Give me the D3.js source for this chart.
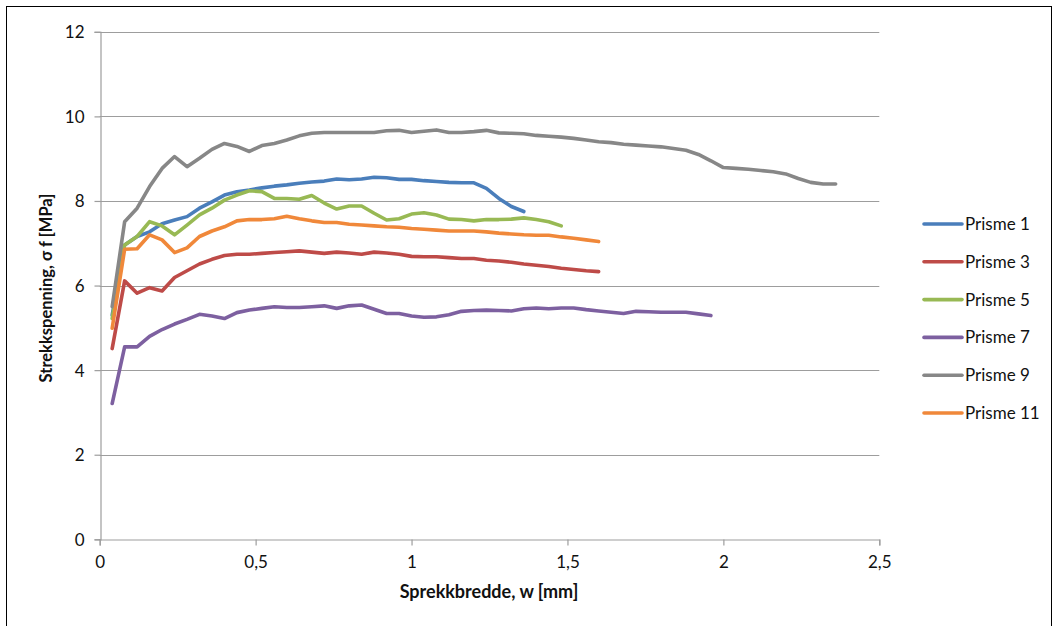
<!DOCTYPE html>
<html>
<head>
<meta charset="utf-8">
<script src="https://cdn.jsdelivr.net/npm/d3@7/dist/d3.min.js"></script>
<style>
  html, body { margin: 0; padding: 0; background: #fff; }
  svg { display: block; font-family: Lato, "Open Sans", sans-serif; }
</style>
</head>
<body>
<svg id="chart" width="1058" height="626"></svg>
<script>
// Crack width steps [mm], shared by every specimen
const crackWidth = [0.04,0.08,0.12,0.16,0.20,0.24,0.28,0.32,0.36,0.40,0.44,0.48,0.52,0.56,0.60,0.64,0.68,0.72,0.76,0.80,
  0.84,0.88,0.92,0.96,1.00,1.04,1.08,1.12,1.16,1.20,1.24,1.28,1.32,1.36,1.40,1.44,1.48,1.52,1.56,1.60,
  1.64,1.68,1.72,1.76,1.80,1.84,1.88,1.92,1.96,2.00,2.04,2.08,2.12,2.16,2.20,2.24,2.28,2.32,2.36];

// Tensile stress [MPa] per specimen, one value per crack width step
const prisme1 = [5.3,6.96,7.16,7.27,7.46,7.55,7.63,7.83,7.98,8.14,8.22,8.26,8.31,8.35,8.38,8.42,8.45,8.47,8.52,8.50,
  8.52,8.56,8.55,8.51,8.51,8.48,8.46,8.44,8.43,8.43,8.30,8.06,7.87,7.75];
const prisme3 = [4.51,6.11,5.82,5.95,5.87,6.19,6.35,6.51,6.62,6.71,6.74,6.74,6.76,6.78,6.80,6.82,6.79,6.76,6.79,6.77,
  6.74,6.79,6.77,6.74,6.69,6.68,6.68,6.66,6.64,6.64,6.60,6.58,6.55,6.51,6.48,6.45,6.41,6.38,6.35,6.33];
const prisme5 = [5.22,6.96,7.16,7.51,7.41,7.20,7.43,7.67,7.83,8.02,8.14,8.24,8.22,8.06,8.06,8.04,8.13,7.95,7.81,7.88,
  7.88,7.71,7.55,7.58,7.69,7.72,7.67,7.57,7.56,7.53,7.56,7.56,7.57,7.60,7.56,7.51,7.41];
const prisme7 = [3.21,4.55,4.55,4.80,4.96,5.09,5.20,5.32,5.28,5.22,5.36,5.42,5.46,5.50,5.48,5.48,5.50,5.52,5.46,5.52,
  5.54,5.44,5.34,5.34,5.28,5.25,5.26,5.31,5.39,5.41,5.42,5.41,5.40,5.45,5.47,5.45,5.47,5.47,5.43,5.40,
  5.37,5.34,5.39,5.38,5.37,5.37,5.37,5.33,5.29];
const prisme9 = [5.5,7.51,7.83,8.34,8.77,9.05,8.81,9.01,9.22,9.36,9.29,9.17,9.31,9.36,9.44,9.54,9.60,9.62,9.62,9.62,
  9.62,9.62,9.66,9.67,9.62,9.65,9.68,9.62,9.62,9.64,9.67,9.61,9.60,9.59,9.55,9.53,9.51,9.48,9.44,9.40,
  9.38,9.34,9.32,9.30,9.28,9.24,9.20,9.10,8.95,8.79,8.77,8.75,8.72,8.69,8.64,8.53,8.44,8.40,8.40];
const prisme11 = [4.99,6.86,6.87,7.20,7.08,6.78,6.89,7.16,7.29,7.39,7.53,7.56,7.56,7.58,7.64,7.58,7.53,7.49,7.49,7.45,
  7.43,7.41,7.39,7.38,7.35,7.33,7.31,7.29,7.29,7.29,7.27,7.24,7.22,7.20,7.19,7.19,7.15,7.12,7.08,7.04];

const seriesNames = ["Prisme 1","Prisme 3","Prisme 5","Prisme 7","Prisme 9","Prisme 11"];
const seriesValues = [prisme1, prisme3, prisme5, prisme7, prisme9, prisme11];
const seriesColors = ["#4A7EBB","#BE4B48","#98B954","#7D60A0","#878787","#F0883A"];

const xTicks = [0, 0.5, 1, 1.5, 2, 2.5];
const yTicks = [0, 2, 4, 6, 8, 10, 12];
const fmt = v => String(v).replace(".", ",");

const svg = d3.select("#chart");

// outer frame of the chart object
svg.append("rect")
  .attr("x", 6.5).attr("y", 6.5)
  .attr("width", 1045).attr("height", 640)
  .attr("fill", "none").attr("stroke", "#000").attr("stroke-width", 1);

const x = d3.scaleLinear().domain([0, 2.5]).range([99.7, 879.3]);
const y = d3.scaleLinear().domain([0, 12]).range([539.3, 31.8]);

// horizontal gridlines
svg.append("g")
  .selectAll("line")
  .data(yTicks.filter(d => d > 0))
  .join("line")
  .attr("x1", x(0)).attr("x2", x(2.5))
  .attr("y1", d => Math.round(y(d)) + 0.5).attr("y2", d => Math.round(y(d)) + 0.5)
  .attr("stroke", "#9d9d9d").attr("stroke-width", 1.2);

// y axis
const yAxis = svg.append("g")
  .attr("transform", `translate(${Math.round(x(0)) + 0.5},0)`)
  .call(d3.axisLeft(y).tickValues(yTicks).tickSize(6).tickPadding(10).tickFormat(fmt));

// x axis
const xAxis = svg.append("g")
  .attr("transform", `translate(0,${Math.round(y(0)) + 0.5})`)
  .call(d3.axisBottom(x).tickValues(xTicks).tickSize(6).tickPadding(10).tickFormat(fmt));

[yAxis, xAxis].forEach(g => {
  g.select(".domain").attr("stroke", "#9d9d9d").attr("stroke-width", 1.2);
  g.selectAll(".tick line").attr("stroke", "#9d9d9d").attr("stroke-width", 1.2);
  g.selectAll(".tick text")
    .attr("fill", "#111")
    .style("font-size", "17px")
    .style("font-family", "Lato, 'Open Sans', sans-serif");
});
yAxis.selectAll(".tick text").attr("dy", "0.35em");

// data lines
const line = d3.line()
  .x((d, i) => x(crackWidth[i]))
  .y(d => y(d));

svg.append("g")
  .selectAll("path")
  .data(seriesValues)
  .join("path")
  .attr("d", d => line(d))
  .attr("fill", "none")
  .attr("stroke", (d, i) => seriesColors[i])
  .attr("stroke-width", 3.6)
  .attr("stroke-linejoin", "round")
  .attr("stroke-linecap", "round");

// axis titles
svg.append("text")
  .attr("x", 489).attr("y", 598)
  .attr("text-anchor", "middle")
  .style("font-size", "18px").style("font-weight", "bold")
  .attr("fill", "#111")
  .text("Sprekkbredde, w [mm]");

svg.append("text")
  .attr("transform", "translate(52,288) rotate(-90)")
  .attr("text-anchor", "middle")
  .style("font-size", "16.5px").style("font-weight", "bold")
  .attr("fill", "#111")
  .text("Strekkspenning, σ f [MPa]");

// legend
const legend = svg.append("g")
  .selectAll("g")
  .data(seriesNames)
  .join("g")
  .attr("transform", (d, i) => `translate(924,${224 + i * 37.8})`);

legend.append("line")
  .attr("x1", 0).attr("x2", 38)
  .attr("stroke", (d, i) => seriesColors[i])
  .attr("stroke-width", 3.6)
  .attr("stroke-linecap", "round");

legend.append("text")
  .attr("x", 41).attr("dy", "0.35em")
  .style("font-size", "17px")
  .attr("fill", "#111")
  .text(d => d);
</script>
</body>
</html>
